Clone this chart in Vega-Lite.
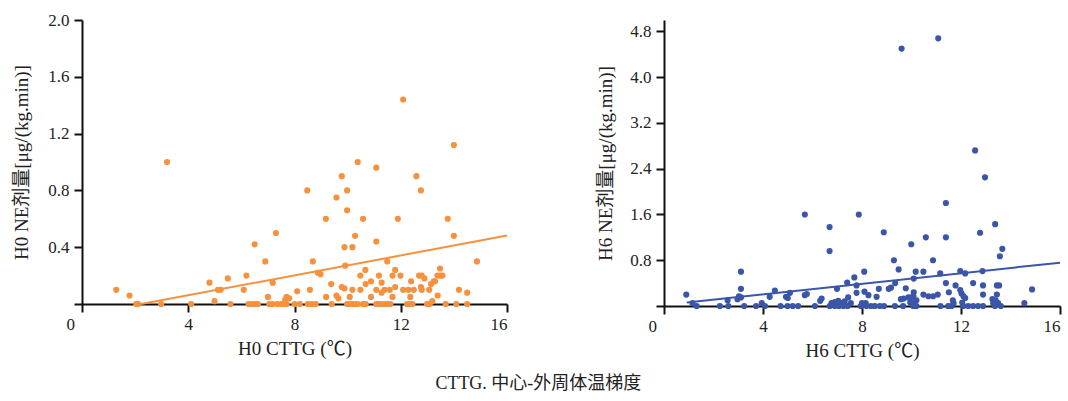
{
  "$schema": "https://vega.github.io/schema/vega-lite/v6.json",
  "background": "white",
  "padding": {"left": 12, "top": 11, "right": 0, "bottom": 4},
  "bounds": "flush",
  "spacing": 157,
  "config": {
    "view": {"stroke": null},
    "font": "Liberation Serif, Noto Sans CJK SC, serif",
    "axis": {
      "grid": false,
      "domainColor": "#111",
      "domainWidth": 2,
      "tickColor": "#111",
      "tickWidth": 2,
      "tickSize": 8,
      "labelFont": "Liberation Serif",
      "labelFontSize": 17,
      "labelColor": "#222",
      "labelPadding": 5,
      "titleFont": "Liberation Serif, Noto Sans CJK SC, serif",
      "titleFontSize": 19,
      "titleFontWeight": "normal",
      "titleColor": "#222"
    }
  },
  "title": {
    "text": "CTTG. 中心-外周体温梯度",
    "orient": "bottom",
    "anchor": "middle",
    "font": "Liberation Serif, Noto Sans CJK SC, serif",
    "fontSize": 18,
    "fontWeight": "normal",
    "color": "#222",
    "offset": 15
  },
  "datasets": {
    "h0": [
      {"x":1.29,"y":0.10},{"x":1.79,"y":0.06},{"x":2.04,"y":0},{"x":2.12,"y":0},{"x":2.98,"y":0},{"x":3.20,"y":1.00},{"x":4.11,"y":0},{"x":4.80,"y":0.15},{"x":4.99,"y":0.02},{"x":5.12,"y":0.10},{"x":5.22,"y":0.10},{"x":5.49,"y":0.18},{"x":5.59,"y":0},{"x":6.09,"y":0.10},{"x":6.19,"y":0.20},{"x":6.27,"y":0},{"x":6.40,"y":0},{"x":6.52,"y":0},{"x":6.62,"y":0},{"x":6.50,"y":0.42},{"x":6.90,"y":0.30},{"x":7.00,"y":0.05},{"x":7.05,"y":0},{"x":7.17,"y":0},{"x":7.18,"y":0.15},{"x":7.30,"y":0.50},{"x":7.35,"y":0},{"x":7.50,"y":0},{"x":7.60,"y":0},{"x":7.70,"y":0},{"x":7.65,"y":0.03},{"x":7.70,"y":0.05},{"x":7.80,"y":0.04},{"x":8.00,"y":0},{"x":8.20,"y":0},{"x":8.10,"y":0.09},{"x":8.48,"y":0.80},{"x":8.50,"y":0},{"x":8.65,"y":0},{"x":8.80,"y":0},{"x":8.58,"y":0.10},{"x":8.69,"y":0.30},{"x":8.88,"y":0.22},{"x":8.98,"y":0.21},{"x":9.18,"y":0.60},{"x":9.19,"y":0.05},{"x":9.38,"y":0.14},{"x":9.40,"y":0},{"x":9.58,"y":0.75},{"x":9.58,"y":0.06},{"x":9.65,"y":0.04},{"x":9.78,"y":0.90},{"x":9.78,"y":0.12},{"x":9.88,"y":0.11},{"x":9.88,"y":0.40},{"x":9.91,"y":0.27},{"x":9.98,"y":0.80},{"x":9.98,"y":0.66},{"x":9.98,"y":0},{"x":10.08,"y":0},{"x":10.18,"y":0},{"x":10.28,"y":0},{"x":10.38,"y":0},{"x":10.08,"y":0.05},{"x":10.18,"y":0.40},{"x":10.18,"y":0.10},{"x":10.28,"y":0.48},{"x":10.38,"y":1.00},{"x":10.48,"y":0.20},{"x":10.48,"y":0.10},{"x":10.58,"y":0.60},{"x":10.58,"y":0},{"x":10.68,"y":0},{"x":10.67,"y":0.24},{"x":10.68,"y":0.14},{"x":10.88,"y":0.05},{"x":10.88,"y":0.16},{"x":11.08,"y":0.96},{"x":11.08,"y":0.44},{"x":11.08,"y":0.10},{"x":11.08,"y":0},{"x":11.18,"y":0},{"x":11.28,"y":0},{"x":11.41,"y":0},{"x":11.51,"y":0},{"x":11.61,"y":0},{"x":11.18,"y":0.20},{"x":11.28,"y":0.15},{"x":11.28,"y":0.08},{"x":11.39,"y":0.10},{"x":11.49,"y":0.30},{"x":11.59,"y":0.10},{"x":11.69,"y":0.20},{"x":11.69,"y":0.05},{"x":11.79,"y":0.24},{"x":11.79,"y":0.12},{"x":11.89,"y":0.60},{"x":11.99,"y":0.20},{"x":12.09,"y":1.44},{"x":12.09,"y":0.10},{"x":12.24,"y":0},{"x":12.34,"y":0},{"x":12.44,"y":0},{"x":12.29,"y":0.10},{"x":12.36,"y":0.05},{"x":12.39,"y":0.16},{"x":12.49,"y":0.10},{"x":12.59,"y":0.90},{"x":12.69,"y":0.20},{"x":12.76,"y":0.80},{"x":12.76,"y":0.12},{"x":12.79,"y":0.10},{"x":12.79,"y":0.20},{"x":12.89,"y":0.18},{"x":12.99,"y":0},{"x":13.09,"y":0},{"x":13.07,"y":0.10},{"x":13.14,"y":0.14},{"x":13.24,"y":0.16},{"x":13.19,"y":0.02},{"x":13.29,"y":0.16},{"x":13.39,"y":0.06},{"x":13.38,"y":0.20},{"x":13.48,"y":0.20},{"x":13.57,"y":0.20},{"x":13.48,"y":0.25},{"x":13.69,"y":0},{"x":13.77,"y":0.60},{"x":14.00,"y":0.48},{"x":14.00,"y":1.12},{"x":14.09,"y":0},{"x":14.19,"y":0.10},{"x":14.50,"y":0.08},{"x":14.50,"y":0},{"x":14.87,"y":0.30}
    ],
    "h0line": [{"x":2.23,"y":0},{"x":16,"y":0.482}],
    "h6": [
      {"x":11.08,"y":4.68},{"x":9.60,"y":4.50},{"x":12.57,"y":2.72},{"x":12.97,"y":2.25},{"x":11.39,"y":1.80},{"x":5.69,"y":1.60},{"x":7.87,"y":1.60},{"x":13.38,"y":1.43},{"x":6.69,"y":1.38},{"x":8.88,"y":1.29},{"x":12.77,"y":1.28},{"x":10.58,"y":1.20},{"x":11.39,"y":1.20},{"x":9.99,"y":1.08},{"x":13.67,"y":1.00},{"x":6.69,"y":0.96},{"x":13.57,"y":0.87},{"x":9.29,"y":0.80},{"x":10.87,"y":0.80},{"x":9.48,"y":0.64},{"x":3.11,"y":0.60},{"x":8.09,"y":0.60},{"x":10.17,"y":0.60},{"x":10.48,"y":0.60},{"x":11.97,"y":0.61},{"x":12.87,"y":0.61},{"x":11.16,"y":0.57},{"x":12.17,"y":0.57},{"x":7.69,"y":0.50},{"x":10.09,"y":0.48},{"x":7.40,"y":0.41},{"x":11.39,"y":0.40},{"x":12.49,"y":0.40},{"x":9.34,"y":0.40},{"x":11.78,"y":0.36},{"x":12.89,"y":0.36},{"x":13.45,"y":0.36},{"x":13.54,"y":0.36},{"x":3.11,"y":0.30},{"x":6.99,"y":0.30},{"x":8.68,"y":0.30},{"x":9.08,"y":0.30},{"x":9.17,"y":0.32},{"x":9.77,"y":0.31},{"x":14.87,"y":0.29},{"x":7.78,"y":0.36},{"x":7.78,"y":0.23},{"x":11.97,"y":0.28},{"x":0.90,"y":0.20},{"x":4.48,"y":0.27},{"x":5.09,"y":0.23},{"x":4.93,"y":0.16},{"x":5.00,"y":0.14},{"x":5.69,"y":0.19},{"x":5.77,"y":0.21},{"x":4.27,"y":0.16},{"x":3.03,"y":0.17},{"x":3.11,"y":0.15},{"x":2.97,"y":0.12},{"x":2.57,"y":0.10},{"x":6.37,"y":0.13},{"x":6.31,"y":0.09},{"x":7.44,"y":0.15},{"x":8.26,"y":0.19},{"x":8.10,"y":0.25},{"x":8.59,"y":0.16},{"x":10.09,"y":0.24},{"x":10.08,"y":0.17},{"x":9.87,"y":0.15},{"x":10.00,"y":0.15},{"x":10.20,"y":0.10},{"x":10.48,"y":0.20},{"x":10.68,"y":0.17},{"x":10.87,"y":0.17},{"x":11.06,"y":0.20},{"x":11.51,"y":0.24},{"x":12.02,"y":0.22},{"x":12.10,"y":0.17},{"x":12.17,"y":0.14},{"x":12.89,"y":0.20},{"x":13.45,"y":0.20},{"x":13.40,"y":0.10},{"x":13.27,"y":0.12},{"x":9.57,"y":0.12},{"x":9.68,"y":0.13},{"x":11.67,"y":0.10},{"x":14.56,"y":0.05},{"x":7.04,"y":0.09},{"x":6.90,"y":0.07},{"x":6.77,"y":0.05},{"x":7.17,"y":0.05},{"x":7.30,"y":0.08},{"x":7.55,"y":0.05},{"x":9.95,"y":0.06},{"x":10.10,"y":0.05},{"x":11.70,"y":0.05},{"x":12.05,"y":0.06},{"x":13.30,"y":0.05},{"x":13.50,"y":0.05},{"x":8.00,"y":0.05},{"x":8.15,"y":0.05},{"x":3.95,"y":0.05},{"x":1.15,"y":0.05},
      {"x":1.32,"y":0},{"x":2.26,"y":0},{"x":2.60,"y":0},{"x":3.24,"y":0},{"x":3.72,"y":0},{"x":4.08,"y":0},{"x":4.71,"y":0},{"x":4.99,"y":0},{"x":5.20,"y":0},{"x":5.42,"y":0},{"x":6.10,"y":0},{"x":6.70,"y":0},{"x":6.90,"y":0},{"x":7.07,"y":0},{"x":7.25,"y":0},{"x":7.42,"y":0},{"x":7.95,"y":0},{"x":8.18,"y":0},{"x":8.36,"y":0},{"x":8.52,"y":0},{"x":8.72,"y":0},{"x":8.89,"y":0},{"x":9.33,"y":0},{"x":9.66,"y":0},{"x":10.07,"y":0},{"x":10.20,"y":0},{"x":11.17,"y":0},{"x":11.48,"y":0},{"x":11.62,"y":0},{"x":12.09,"y":0},{"x":12.29,"y":0},{"x":12.49,"y":0},{"x":12.69,"y":0},{"x":12.89,"y":0},{"x":13.37,"y":0},{"x":13.61,"y":0}
    ],
    "h6line": [{"x":0.92,"y":0.06},{"x":16,"y":0.758}]
  },
  "hconcat": [
    {
      "width": 425,
      "height": 284,
      "layer": [
        {
          "data": {"name": "h0"},
          "mark": {"type": "circle", "size": 38, "color": "#F7913D", "opacity": 1},
          "encoding": {
            "x": {"field": "x", "type": "quantitative", "scale": {"domain": [0, 16], "nice": false},
                  "axis": {"values": [0, 4, 8, 12, 16], "title": "H0 CTTG (℃)", "titlePadding": 7, "labelPadding": 4,
                           "labelOffset": {"condition": {"test": "datum.value === 0", "value": -16}, "value": 0}}},
            "y": {"field": "y", "type": "quantitative", "scale": {"domain": [0, 2], "nice": false},
                  "axis": {"values": [0, 0.4, 0.8, 1.2, 1.6, 2.0], "title": "H0 NE剂量[μg/(kg.min)]", "titlePadding": 16,
                           "labelExpr": "datum.value === 0 ? '' : format(datum.value, '.1f')"}}
          }
        },
        {
          "data": {"name": "h0line"},
          "mark": {"type": "line", "color": "#F7913D", "strokeWidth": 2},
          "encoding": {"x": {"field": "x", "type": "quantitative"}, "y": {"field": "y", "type": "quantitative"}}
        },
        {
          "mark": {"type": "text", "text": "P", "fontStyle": "italic", "align": "right", "baseline": "middle", "fontSize": 15, "font": "Liberation Serif", "color": "#222"},
          "encoding": {"x": {"datum": 11.63, "type": "quantitative"}, "y": {"datum": 1.78, "type": "quantitative"}}
        },
        {
          "mark": {"type": "text", "text": "=0.199", "align": "left", "baseline": "middle", "fontSize": 15, "font": "Liberation Serif", "color": "#222"},
          "encoding": {"x": {"datum": 11.63, "type": "quantitative"}, "y": {"datum": 1.78, "type": "quantitative"}}
        }
      ]
    },
    {
      "width": 396,
      "height": 286,
      "layer": [
        {
          "data": {"name": "h6"},
          "mark": {"type": "circle", "size": 38, "color": "#3B56A8", "opacity": 1},
          "encoding": {
            "x": {"field": "x", "type": "quantitative", "scale": {"domain": [0, 16], "nice": false},
                  "axis": {"values": [0, 4, 8, 12, 16], "title": "H6 CTTG (℃)", "titlePadding": 7, "labelPadding": 4,
                           "labelOffset": {"condition": {"test": "datum.value === 0", "value": -16}, "value": 0}}},
            "y": {"field": "y", "type": "quantitative", "scale": {"domain": [0, 5], "nice": false},
                  "axis": {"values": [0, 0.8, 1.6, 2.4, 3.2, 4.0, 4.8], "title": "H6 NE剂量[μg/(kg.min)]", "titlePadding": 14,
                           "labelExpr": "datum.value === 0 ? '' : format(datum.value, '.1f')"}}
          }
        },
        {
          "data": {"name": "h6line"},
          "mark": {"type": "line", "color": "#3B56A8", "strokeWidth": 2},
          "encoding": {"x": {"field": "x", "type": "quantitative"}, "y": {"field": "y", "type": "quantitative"}}
        },
        {
          "mark": {"type": "text", "text": "P", "fontStyle": "italic", "align": "right", "baseline": "middle", "fontSize": 15, "font": "Liberation Serif", "color": "#222"},
          "encoding": {"x": {"datum": 12.63, "type": "quantitative"}, "y": {"datum": 4.78, "type": "quantitative"}}
        },
        {
          "mark": {"type": "text", "text": "=0.139", "align": "left", "baseline": "middle", "fontSize": 15, "font": "Liberation Serif", "color": "#222"},
          "encoding": {"x": {"datum": 12.63, "type": "quantitative"}, "y": {"datum": 4.78, "type": "quantitative"}}
        }
      ]
    }
  ]
}
